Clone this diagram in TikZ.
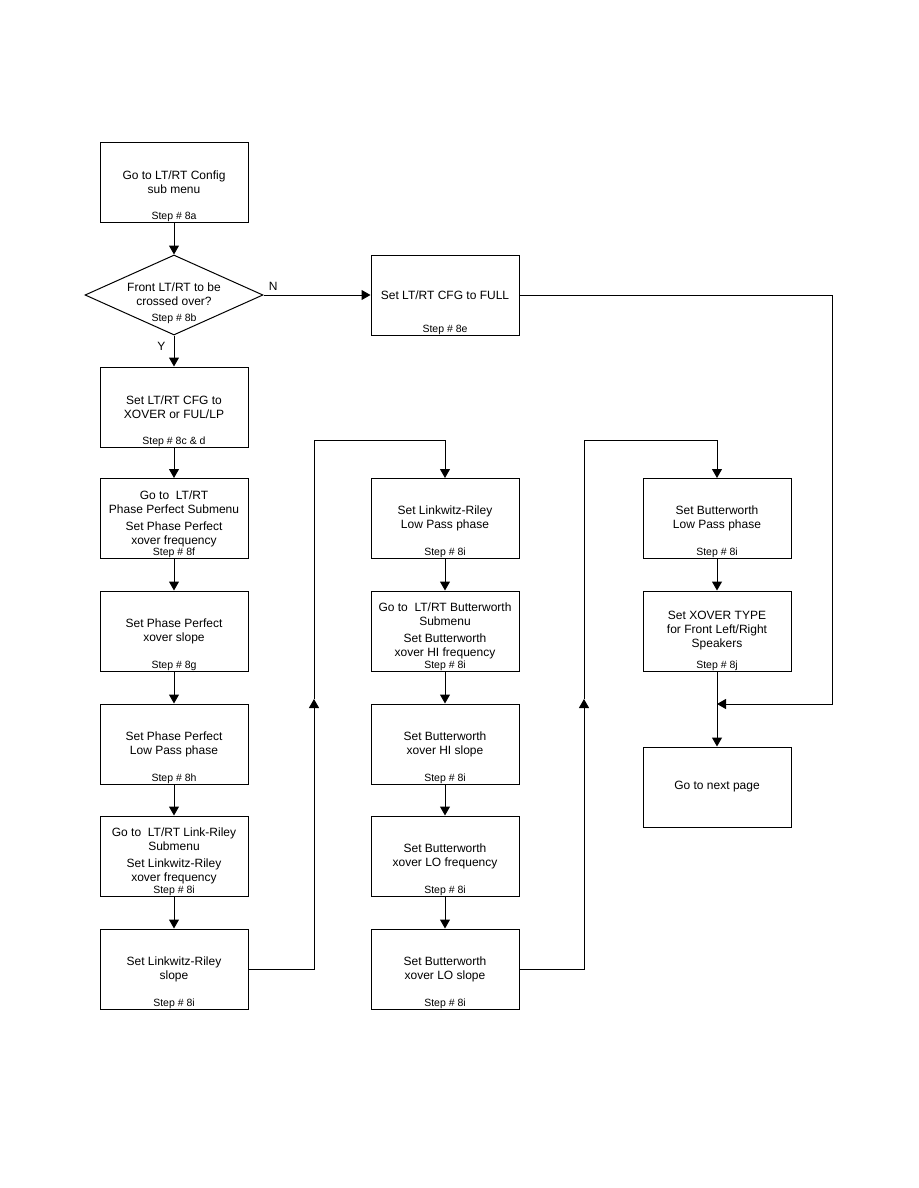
\documentclass[tikz,border=0pt]{standalone}
\usepackage{fontspec}
\setmainfont{Liberation Sans}
\usetikzlibrary{shapes.geometric,arrows.meta,positioning}

\tikzset{
  box/.style={draw, line width=1pt, minimum width=148pt, minimum height=80pt,
    align=center, font=\fontsize{12}{14}\selectfont, inner sep=2pt},
  decision/.style={draw, diamond, line width=1pt, minimum width=178pt,
    minimum height=80pt, inner sep=0pt},
  steplbl/.style={font=\fontsize{10.5}{12}\selectfont, inner sep=1pt},
  txt/.style={align=center, font=\fontsize{12}{14}\selectfont, inner sep=0pt},
  arr/.style={line width=1pt, -{Triangle[width=10pt,length=9pt]}},
}

\begin{document}
\begin{tikzpicture}[x=1pt, y=-1pt]

\useasboundingbox (0,0) rectangle (918,1188);

% -- left column -------------------------------------------------------
\node[box] (a) at (174,182) {Go to LT/RT Config\\sub menu};
\node[steplbl, above=0pt of a.south] (a-s) {Step \# 8a};

\node[decision] (d) at (174,295) {};
\node[txt] (d-t) at (174,294) {Front LT/RT to be\\crossed over?};
\node[steplbl] (d-s) at (174,319) {Step \# 8b};

\node[box] (cd) at (174,407) {Set LT/RT CFG to\\XOVER or FUL/LP};
\node[steplbl, above=0pt of cd.south] (cd-s) {Step \# 8c \& d};

\node[box] (f) at (174,518.5)
  {Go to\ \ LT/RT\\Phase Perfect Submenu\\[3pt]Set Phase Perfect\\xover frequency};
\node[steplbl, above=0pt of f.south] (f-s) {Step \# 8f};

\node[box] (g) at (174,631) {Set Phase Perfect\\xover slope};
\node[steplbl, above=0pt of g.south] (g-s) {Step \# 8g};

\node[box] (h) at (174,744) {Set Phase Perfect\\Low Pass phase};
\node[steplbl, above=0pt of h.south] (h-s) {Step \# 8h};

\node[box] (lr) at (174,856)
  {Go to\ \ LT/RT Link-Riley\\Submenu\\[3pt]Set Linkwitz-Riley\\xover frequency};
\node[steplbl, above=0pt of lr.south] (lr-s) {Step \# 8i};

\node[box] (lrs) at (174,969) {Set Linkwitz-Riley\\slope};
\node[steplbl, above=0pt of lrs.south] (lrs-s) {Step \# 8i};

% -- middle column -----------------------------------------------------
\node[box] (e) at (445,295) {Set LT/RT CFG to FULL};
\node[steplbl, above=0pt of e.south] (e-s) {Step \# 8e};

\node[box] (lrl) at (445,518.5) {Set Linkwitz-Riley\\Low Pass phase};
\node[steplbl, above=0pt of lrl.south] (lrl-s) {Step \# 8i};

\node[box] (bhf) at (445,631)
  {Go to\ \ LT/RT Butterworth\\Submenu\\[3pt]Set Butterworth\\xover HI frequency};
\node[steplbl, above=0pt of bhf.south] (bhf-s) {Step \# 8i};

\node[box] (bhs) at (445,744) {Set Butterworth\\xover HI slope};
\node[steplbl, above=0pt of bhs.south] (bhs-s) {Step \# 8i};

\node[box] (blf) at (445,856) {Set Butterworth\\xover LO frequency};
\node[steplbl, above=0pt of blf.south] (blf-s) {Step \# 8i};

\node[box] (bls) at (445,969) {Set Butterworth\\xover LO slope};
\node[steplbl, above=0pt of bls.south] (bls-s) {Step \# 8i};

% -- right column ------------------------------------------------------
\node[box] (bll) at (717,518.5) {Set Butterworth\\Low Pass phase};
\node[steplbl, above=0pt of bll.south] (bll-s) {Step \# 8i};

\node[box] (xt) at (717,631) {Set XOVER TYPE\\for Front Left/Right\\Speakers};
\node[steplbl, above=0pt of xt.south] (xt-s) {Step \# 8j};

\node[box] (np) at (717,787) {Go to next page};

% -- connectors --------------------------------------------------------
\coordinate (turn1) at (314,440);
\coordinate (up1)   at (314,699);
\coordinate (turn2) at (584,440);
\coordinate (up2)   at (584,699);
\coordinate (bend)  at (832,295);
\coordinate (join)  at (717,704);

\draw[arr] (a) -- (d);
\draw[arr] (d) -- node[txt, pos=0.35, left=8pt] (y-lbl) {Y} (cd);
\draw[arr] (d) -- node[txt, pos=0.09, above=4pt] (n-lbl) {N} (e);
\draw[arr] (cd) -- (f);
\draw[arr] (f) -- (g);
\draw[arr] (g) -- (h);
\draw[arr] (h) -- (lr);
\draw[arr] (lr) -- (lrs);

\draw[arr] (lrs.east) -| (up1);
\draw[arr] (up1) -- (turn1) -| (lrl.north);

\draw[arr] (lrl) -- (bhf);
\draw[arr] (bhf) -- (bhs);
\draw[arr] (bhs) -- (blf);
\draw[arr] (blf) -- (bls);

\draw[arr] (bls.east) -| (up2);
\draw[arr] (up2) -- (turn2) -| (bll.north);

\draw[arr] (bll) -- (xt);
\draw[arr] (xt) -- (np);
\draw[arr] (e.east) -- (bend) |- (join);

\end{tikzpicture}
\end{document}
